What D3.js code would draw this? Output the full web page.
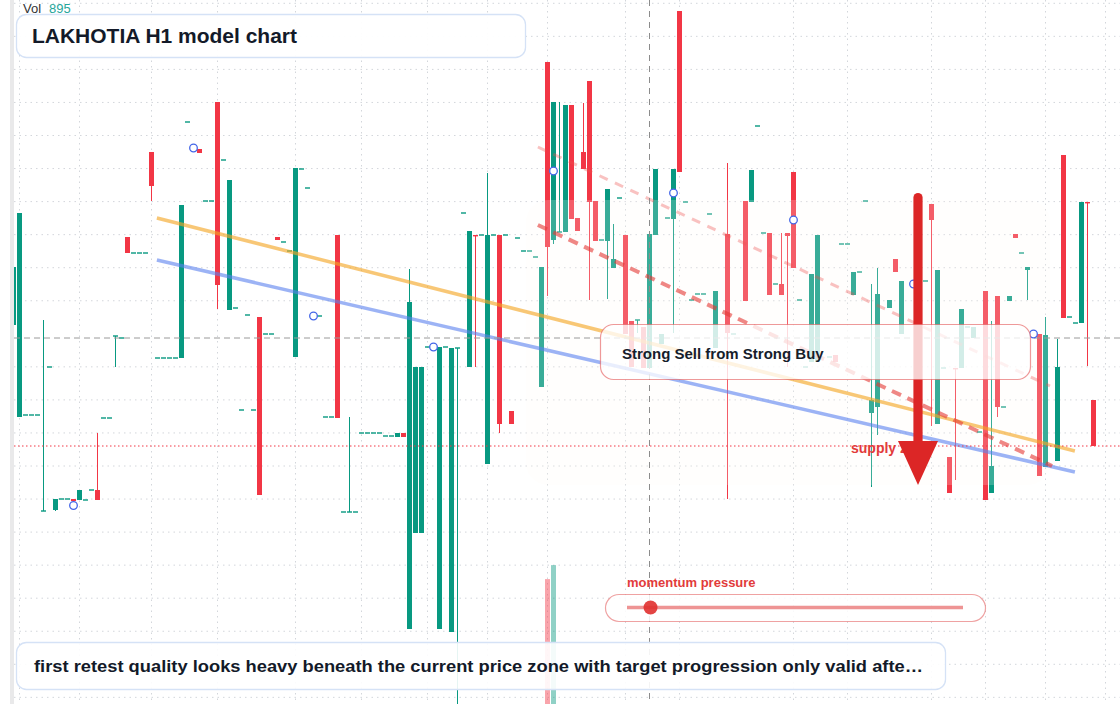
<!DOCTYPE html>
<html>
<head>
<meta charset="utf-8">
<script src="https://cdn.jsdelivr.net/npm/d3@7"></script>
<style>
  html, body { margin: 0; padding: 0; background: #fff; }
  svg { display: block; font-family: 'Liberation Sans', Arial, sans-serif; }
</style>
</head>
<body>
<div class="graph-container"></div>
<script>
// candles: [slot, open, high, low, close]; a [slot, price] row is a flat doji
const candles = [
  [0, 97.5, 103.3, 97.5, 103.3], [1, 88.3, 108.7, 88.3, 108.7], [2, 88.5], [3, 88.5], [4, 88.5],
  [5, 78.9, 98.0, 78.9, 78.9], [6, 93.3], [7, 79.0, 80.1, 78.9, 80.1], [8, 80.1], [9, 80.1],
  [10, 80.1, 80.1, 79.9, 79.9], [11, 80.0, 81.0, 80.0, 81.0], [12, 80.0], [13, 81.0],
  [14, 81.0, 86.7, 80.0, 80.0], [15, 88.2], [16, 88.2], [17, 96.4, 96.4, 93.3, 96.4], [18, 96.2],
  [19, 106.3, 106.3, 104.7, 104.7], [20, 104.7], [21, 104.7], [22, 104.7],
  [23, 114.8, 114.8, 109.9, 111.4], [24, 94.2], [25, 94.2], [26, 94.2], [27, 94.2],
  [28, 94.2, 109.5, 94.2, 109.5], [29, 117.8], [31, 115.1, 115.1, 114.7, 114.7], [32, 109.9], [33, 109.9],
  [34, 119.8, 119.8, 99.1, 101.5], [35, 114.0], [36, 99.0, 112.0, 99.0, 112.0], [37, 99.2], [38, 89.0],
  [39, 98.5], [40, 89.0], [41, 98.3, 98.3, 80.5, 80.5], [42, 96.6], [43, 96.6],
  [44, 106.3, 106.3, 106.0, 106.0], [45, 105.8], [46, 104.9], [47, 94.3, 113.2, 94.3, 113.2],
  [48, 113.1], [49, 111.2], [51, 98.4], [52, 88.3], [53, 88.3], [54, 106.5, 106.5, 88.2, 88.2],
  [55, 78.8], [56, 78.8, 88.3, 78.8, 78.8], [57, 78.8], [58, 86.7], [59, 86.7], [60, 86.7], [61, 86.7],
  [62, 86.4], [63, 86.4], [64, 86.3, 86.7, 86.3, 86.7], [65, 86.7, 86.7, 86.3, 86.3],
  [66, 67.1, 103.1, 67.1, 99.8], [67, 76.7, 93.3, 76.7, 93.3], [68, 76.7, 93.3, 76.7, 93.3], [69, 95.3],
  [71, 67.1, 95.3, 67.1, 95.3], [72, 95.3], [73, 66.8, 95.2, 66.8, 95.2], [74, 95.2, 95.2, 58.0, 95.2],
  [75, 108.7], [76, 93.3, 106.9, 93.3, 106.9], [77, 106.5, 106.5, 93.3, 106.4], [78, 106.5],
  [79, 83.6, 112.7, 83.6, 106.5], [80, 106.5], [81, 106.5, 106.5, 86.7, 87.6], [82, 106.5],
  [83, 88.9, 88.9, 87.6, 87.6], [84, 106.2], [85, 104.9], [86, 104.9], [87, 104.3],
  [88, 91.3, 103.3, 91.3, 103.3], [89, 123.8, 123.8, 100.4, 105.3], [90, 106.0, 119.8, 105.6, 119.8],
  [91, 106.8, 119.8, 106.8, 106.8], [92, 106.8, 119.5, 106.8, 119.5], [93, 119.5, 119.5, 108.1, 108.1],
  [94, 108.2, 108.2, 106.9, 106.9], [95, 114.8, 119.7, 113.1, 113.1], [96, 121.9, 121.9, 100.0, 109.8],
  [97, 109.9, 109.9, 105.9, 105.9], [98, 106.0], [99, 105.9, 111.1, 100.1, 111.1],
  [100, 103.2, 107.6, 103.2, 104.1], [101, 110.2], [102, 106.5, 106.5, 96.6, 96.6],
  [103, 97.9, 97.9, 93.3, 93.3], [104, 98.0, 98.0, 96.7, 98.0], [105, 97.3, 97.3, 93.2, 93.2],
  [106, 93.2, 106.6, 93.2, 106.6], [107, 106.5, 113.1, 106.5, 113.1], [108, 95.6, 96.6, 95.6, 96.6],
  [109, 108.2], [110, 108.1, 113.1, 96.7, 113.1], [111, 128.9, 128.9, 112.8, 112.8], [112, 109.8],
  [113, 100.0], [114, 100.6], [115, 100.6], [116, 108.6], [117, 95.2, 100.9, 95.2, 100.9],
  [119, 106.6, 113.7, 80.1, 96.7], [120, 96.6], [122, 109.9, 109.9, 99.9, 99.9],
  [123, 109.8, 113.0, 109.8, 113.0], [124, 117.4], [125, 106.7], [126, 106.7, 106.7, 100.5, 100.5],
  [127, 101.6], [128, 101.6, 106.7, 100.5, 100.5], [129, 106.7, 106.7, 93.3, 106.4],
  [130, 112.8, 112.8, 103.2, 103.2], [131, 100.0], [132, 93.3], [133, 93.8, 102.6, 93.8, 102.6],
  [134, 93.8, 106.5, 93.8, 106.5], [136, 94.3], [137, 94.5, 94.5, 93.8, 93.8], [138, 105.6], [139, 105.6],
  [140, 100.5, 102.8, 100.5, 102.8], [141, 102.8], [142, 109.9], [143, 88.7, 101.6, 81.3, 90.0],
  [144, 89.3, 103.2, 86.5, 100.6], [146, 99.2, 100.0, 99.2, 100.0], [147, 104.1, 104.1, 102.8, 102.8],
  [148, 96.6, 101.9, 96.6, 101.9], [152, 101.9], [153, 109.6, 109.6, 87.4, 108.0],
  [154, 87.6, 103.0, 87.6, 103.0], [155, 93.2], [156, 84.3, 84.3, 80.7, 80.7],
  [157, 93.2, 93.2, 82.0, 93.1], [158, 93.2, 99.1, 93.2, 99.1], [159, 97.3], [160, 96.2, 97.3, 96.2, 97.3],
  [161, 86.8], [162, 100.9, 100.9, 80.0, 80.0], [163, 80.7, 97.9, 80.7, 83.4],
  [164, 100.4, 100.4, 88.3, 89.3], [165, 89.3], [166, 99.9, 100.4, 99.9, 100.4],
  [167, 106.6, 106.6, 106.2, 106.2], [168, 104.7], [169, 103.0, 103.3, 100.0, 103.3],
  [171, 96.6, 96.6, 82.4, 82.4], [172, 83.3, 98.3, 83.3, 96.5], [174, 83.9, 96.1, 83.9, 93.3],
  [175, 114.5, 114.5, 98.2, 98.2], [176, 98.3], [177, 97.7], [178, 97.7, 109.8, 97.7, 109.8],
  [179, 109.8, 109.8, 93.4, 109.7], [180, 90.0, 90.0, 85.4, 85.4]
];

// [slot, volume]
const volumes = [[89, 4460], [90, 4960]];

// signal markers [slot, price]
const markers = [[10, 79.45], [30, 115.2], [50, 98.4], [70, 95.3], [90, 112.9],
  [110, 110.7], [130, 108.0], [150, 101.6], [170, 96.6]];

// time grid slots
const timeTicks = [1, 11, 23, 34, 47, 58, 69, 79, 89, 102, 111, 130, 139, 153, 162, 172, 182];

// trend lines [[slot, price], [slot, price]]
const trendUpper = [[23.9, 108.2], [176.9, 84.9]];
const trendLower = [[23.9, 104.0], [176.9, 82.8]];
const channelTop = [[87.4, 115.3], [172.75, 91.4]];
const channelMid = [[87.4, 107.5], [173.1, 83.4]];

const crossPrice = 96.2;
const crossSlot = 106;
const supplyPrice = 85.4;
const zone = { slots: [85.4, 172.75], prices: [81.5, 110] };
const arrowSlot = 150.75;
const arrowPrices = [110.7, 85.9, 81.5];

const title = 'LAKHOTIA H1 model chart';
const volLabel = ['Vol', '895'];
const signalText = 'Strong Sell from Strong Buy';
const supplyText = 'supply zone';
const momentumText = 'momentum pressure';
const momentumValue = 0.07;
const caption = 'first retest quality looks heavy beneath the current price zone with target progression only valid afte\u2026';

const W = 1120, H = 704;
const UP = '#089981', DOWN = '#f23645';

const svg = d3.select('div.graph-container')
  .append('svg')
  .attr('width', W)
  .attr('height', H);

const x = d3.scaleLinear().domain([0, 180]).range([13.5, 1093.5]);
const y = d3.scaleLinear().domain([59.6, 130]).range([H, 0]);
const vol = d3.scaleLinear().domain([0, 5000]).range([0, 140]);

svg.append('defs').append('clipPath').attr('id', 'plot')
  .append('rect').attr('x', 14).attr('y', 0).attr('width', W - 14).attr('height', H);

// left strip
svg.append('rect').attr('x', 10).attr('y', 0).attr('width', 4).attr('height', H).attr('fill', '#e9e9ea');

const plot = svg.append('g').attr('clip-path', 'url(#plot)');

// grid
const gridPrices = d3.range(0, 22).filter(k => k !== 10).map(k => 129.67 - 3.305 * k);
plot.append('g').selectAll('line')
  .data(gridPrices)
  .enter()
  .append('line')
  .attr('x1', 14).attr('x2', W)
  .attr('y1', d => y(d)).attr('y2', d => y(d))
  .attr('stroke', '#d3d6db').attr('stroke-width', 1).attr('stroke-dasharray', '1.5 4');
plot.append('g').selectAll('line')
  .data(timeTicks)
  .enter()
  .append('line')
  .attr('x1', d => x(d)).attr('x2', d => x(d))
  .attr('y1', 0).attr('y2', H)
  .attr('stroke', '#d3d6db').attr('stroke-width', 1).attr('stroke-dasharray', '1.5 4');

// candles
const rows = candles.map(r => r.length === 2
  ? { s: r[0], o: r[1], h: r[1], l: r[1], c: r[1] }
  : { s: r[0], o: r[1], h: r[2], l: r[3], c: r[4] });
const col = d => d.c < d.o ? DOWN : UP;

const cg = plot.append('g');
cg.selectAll('line')
  .data(rows.filter(d => d.h > Math.max(d.o, d.c) || d.l < Math.min(d.o, d.c)))
  .enter()
  .append('line')
  .attr('x1', d => x(d.s)).attr('x2', d => x(d.s))
  .attr('y1', d => y(d.h)).attr('y2', d => y(d.l))
  .attr('stroke', col).attr('stroke-width', 1);
cg.selectAll('rect')
  .data(rows)
  .enter()
  .append('rect')
  .attr('x', d => x(d.s) - 2.5)
  .attr('width', 5)
  .attr('y', d => y(Math.max(d.o, d.c)) - (d.o === d.c ? 0.7 : 0))
  .attr('height', d => Math.max(1.4, Math.abs(y(d.o) - y(d.c))))
  .attr('fill', col);

// volume
plot.append('g').selectAll('rect')
  .data(volumes)
  .enter()
  .append('rect')
  .attr('x', d => x(d[0]) - 2.5)
  .attr('width', 5)
  .attr('y', d => H - vol(d[1]))
  .attr('height', d => vol(d[1]))
  .attr('fill', d => col(rows.find(c => c.s === d[0])))
  .attr('opacity', 0.45);

// zone
plot.append('rect')
  .attr('x', x(zone.slots[0]))
  .attr('y', y(zone.prices[1]))
  .attr('width', x(zone.slots[1]) - x(zone.slots[0]))
  .attr('height', y(zone.prices[0]) - y(zone.prices[1]))
  .attr('rx', 22)
  .attr('fill', '#fdf8f3')
  .attr('opacity', 0.2);

// trend lines
const seg = (pts, stroke, w, op, dash) =>
  plot.append('line')
    .attr('x1', x(pts[0][0])).attr('y1', y(pts[0][1]))
    .attr('x2', x(pts[1][0])).attr('y2', y(pts[1][1]))
    .attr('stroke', stroke).attr('stroke-width', w).attr('opacity', op)
    .attr('stroke-dasharray', dash || null);
seg(trendUpper, '#f5a623', 3.5, 0.62);
seg(trendLower, '#5b82f0', 3.5, 0.6);
seg(channelTop, '#ef5350', 3, 0.35, '9 8');
seg(channelMid, '#e53935', 4, 0.6, '10 7');

// price / time lines
plot.append('line')
  .attr('x1', 14).attr('x2', W).attr('y1', y(crossPrice)).attr('y2', y(crossPrice))
  .attr('stroke', '#9a9a9a').attr('stroke-width', 1).attr('stroke-dasharray', '6 4');
plot.append('line')
  .attr('x1', x(crossSlot)).attr('x2', x(crossSlot)).attr('y1', 0).attr('y2', H)
  .attr('stroke', '#8c8c8c').attr('stroke-width', 1).attr('stroke-dasharray', '6 5');
plot.append('line')
  .attr('x1', 14).attr('x2', W).attr('y1', y(supplyPrice)).attr('y2', y(supplyPrice))
  .attr('stroke', '#f23645').attr('stroke-width', 1).attr('stroke-dasharray', '1.5 2.5');

// markers
plot.append('g').selectAll('circle')
  .data(markers)
  .enter()
  .append('circle')
  .attr('cx', d => x(d[0]))
  .attr('cy', d => y(d[1]))
  .attr('r', 3.8)
  .attr('fill', '#fff')
  .attr('stroke', '#4466e8')
  .attr('stroke-width', 1.3);

// supply text + arrow
svg.append('text')
  .attr('x', 851).attr('y', y(supplyPrice) + 7)
  .attr('fill', '#e23b3b').attr('font-size', '14px').attr('font-weight', 'bold')
  .text(supplyText);
const ax = x(arrowSlot);
svg.append('path')
  .attr('d', `M${ax - 4.6},${y(arrowPrices[1])} L${ax - 4.6},${y(arrowPrices[0]) + 4.6} A4.6,4.6 0 0 1 ${ax + 4.6},${y(arrowPrices[0]) + 4.6} L${ax + 4.6},${y(arrowPrices[1])} Z`)
  .attr('fill', '#dc2626');
svg.append('path')
  .attr('d', `M${ax - 20},${y(arrowPrices[1])} L${ax + 20},${y(arrowPrices[1])} L${ax},${y(arrowPrices[2])} Z`)
  .attr('fill', '#dc2626');

// signal box
svg.append('rect')
  .attr('x', 600.5).attr('y', 324.5).attr('width', 430).attr('height', 55).attr('rx', 13)
  .attr('fill', '#fff').attr('fill-opacity', 0.78)
  .attr('stroke', '#e25555').attr('stroke-opacity', 0.6).attr('stroke-width', 1.2);
svg.append('text')
  .attr('x', 622).attr('y', 359)
  .attr('fill', '#161d2b').attr('font-size', '15px').attr('font-weight', 'bold')
  .text(signalText);

// momentum slider
svg.append('text')
  .attr('x', 627).attr('y', 587)
  .attr('fill', '#e23b3b').attr('font-size', '13px').attr('font-weight', 'bold')
  .text(momentumText);
svg.append('rect')
  .attr('x', 605.5).attr('y', 594.5).attr('width', 380).attr('height', 27).attr('rx', 13.5)
  .attr('fill', '#fff').attr('fill-opacity', 0.85)
  .attr('stroke', '#e25555').attr('stroke-opacity', 0.55).attr('stroke-width', 1.2);
const track = d3.scaleLinear().domain([0, 1]).range([627, 963]);
svg.append('line')
  .attr('x1', track(0)).attr('x2', track(1)).attr('y1', 607.5).attr('y2', 607.5)
  .attr('stroke', '#e55a5a').attr('stroke-opacity', 0.65).attr('stroke-width', 3.5);
svg.append('circle')
  .attr('cx', track(momentumValue)).attr('cy', 607.5).attr('r', 7)
  .attr('fill', '#e0302f').attr('fill-opacity', 0.9);

// title
svg.append('rect')
  .attr('x', 16.5).attr('y', 14.5).attr('width', 509).attr('height', 43).attr('rx', 10)
  .attr('fill', '#fff').attr('fill-opacity', 0.95)
  .attr('stroke', '#d5e2f6').attr('stroke-width', 1.3);
svg.append('text')
  .attr('x', 32).attr('y', 43)
  .attr('fill', '#131a29').attr('font-size', '20.5px').attr('font-weight', 'bold')
  .attr('textLength', 265).attr('lengthAdjust', 'spacingAndGlyphs')
  .text(title);
svg.append('text').attr('x', 23).attr('y', 13).attr('font-size', '13px').attr('fill', '#333')
  .text(volLabel[0]);
svg.append('text').attr('x', 49).attr('y', 13).attr('font-size', '13px').attr('fill', '#26a69a')
  .text(volLabel[1]);

// caption
svg.append('rect')
  .attr('x', 16.5).attr('y', 642.5).attr('width', 929).attr('height', 47).attr('rx', 10)
  .attr('fill', '#fff').attr('fill-opacity', 0.9)
  .attr('stroke', '#d5e2f6').attr('stroke-width', 1.3);
svg.append('text')
  .attr('x', 34).attr('y', 672)
  .attr('fill', '#131a29').attr('font-size', '16px').attr('font-weight', 'bold')
  .attr('textLength', 889).attr('lengthAdjust', 'spacingAndGlyphs')
  .text(caption);
</script>
</body>
</html>
